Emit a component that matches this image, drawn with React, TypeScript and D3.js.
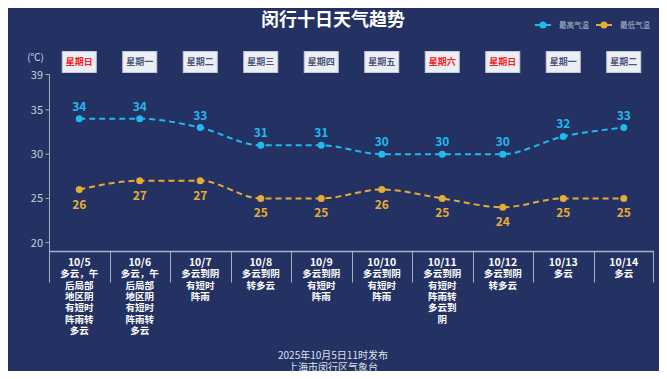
import React from "react";
import * as d3 from "d3";

const dates = ["10/5", "10/6", "10/7", "10/8", "10/9", "10/10", "10/11", "10/12", "10/13", "10/14"];
const weekdays = ["星期日", "星期一", "星期二", "星期三", "星期四", "星期五", "星期六", "星期日", "星期一", "星期二"];
const weathers = [
  "多云，午\n后局部\n地区阴\n有短时\n阵雨转\n多云",
  "多云，午\n后局部\n地区阴\n有短时\n阵雨转\n多云",
  "多云到阴\n有短时\n阵雨",
  "多云到阴\n转多云",
  "多云到阴\n有短时\n阵雨",
  "多云到阴\n有短时\n阵雨",
  "多云到阴\n有短时\n阵雨转\n多云到\n阴",
  "多云到阴\n转多云",
  "多云",
  "多云",
];
const highTemps = [34, 34, 33, 31, 31, 30, 30, 30, 32, 33];
const lowTemps = [26, 27, 27, 25, 25, 26, 25, 24, 25, 25];
const yTicks = [20, 25, 30, 35, 39];
const yDomain = [19, 39];

const W = 667;
const H = 379;
const BG = "#243163";
const BLUE = "#1fbaee";
const ORANGE = "#e5ad37";
const AXIS = "#a9b0c8";
const FONT = "'Noto Sans CJK SC', 'Microsoft YaHei', sans-serif";

export default function App() {
  const x = d3.scaleBand<string>().domain(dates).range([49, 654]).padding(0);
  const y = d3.scaleLinear().domain(yDomain).range([251.5, 74.5]);
  const cx = (d: string) => (x(d) ?? 0) + x.bandwidth() / 2;
  const line = d3
    .line<number>()
    .x((_, i) => cx(dates[i]))
    .y((v) => y(v))
    .curve(d3.curveMonotoneX);
  const axisY = y(yDomain[0]);

  return (
    <div style={{ margin: -8 }}>
      <svg width={W} height={H} style={{ display: "block", background: BG, fontFamily: FONT }}>
        <rect x={0} y={0} width={W} height={H} fill={BG} />
        <text x={333} y={26} textAnchor="middle" fill="#ffffff" fontSize={18} fontWeight="bold">
          闵行十日天气趋势
        </text>
        {/* legend */}
        <g>
          <line x1={535} x2={551} y1={25} y2={25} stroke={BLUE} strokeWidth={2} />
          <circle cx={543} cy={25} r={3.5} fill={BLUE} />
          <text x={559} y={28} fill="#b7bdd2" fontSize={7.5}>最高气温</text>
          <line x1={596} x2={612} y1={25} y2={25} stroke={ORANGE} strokeWidth={2} />
          <circle cx={604} cy={25} r={3.5} fill={ORANGE} />
          <text x={620} y={28} fill="#b7bdd2" fontSize={7.5}>最低气温</text>
        </g>
        {/* unit */}
        <text x={44} y={61} textAnchor="end" fill="#d0d5e4" fontSize={10}>(℃)</text>
        {/* weekday boxes */}
        {dates.map((d, i) => {
          const c = cx(d);
          const red = weekdays[i] === "星期日" || weekdays[i] === "星期六";
          return (
            <g key={"wd" + i}>
              <rect x={c - 17} y={51.5} width={34} height={21} fill="#eceef6" stroke="#c4c8d6" strokeWidth={1} />
              <text x={c} y={65} textAnchor="middle" fontSize={9} fontWeight="bold" fill={red ? "#f51c1c" : "#4a5577"}>
                {weekdays[i]}
              </text>
            </g>
          );
        })}
        {/* y axis */}
        <line x1={49.5} x2={49.5} y1={y(39)} y2={axisY} stroke={AXIS} strokeWidth={1} />
        {yTicks.map((t) => (
          <g key={"yt" + t}>
            <line x1={45.5} x2={49.5} y1={y(t)} y2={y(t)} stroke={AXIS} strokeWidth={1} />
            <text x={43} y={y(t) + 4} textAnchor="end" fill="#c9cedd" fontSize={11}>
              {t}
            </text>
          </g>
        ))}
        {/* x axis */}
        <line x1={49} x2={654} y1={axisY} y2={axisY} stroke={AXIS} strokeWidth={1.5} />
        {dates.map((d, i) => (
          <line key={"xt" + i} x1={Math.round(x(d) ?? 0) + 0.5} x2={Math.round(x(d) ?? 0) + 0.5} y1={axisY} y2={axisY + 31} stroke={AXIS} strokeWidth={1} />
        ))}
        <line x1={653.5} x2={653.5} y1={axisY} y2={axisY + 31} stroke={AXIS} strokeWidth={1} />
        {dates.map((d, i) => {
          const lines = [d, ...weathers[i].split("\n")];
          return (
            <text key={"xl" + i} x={cx(d)} y={266} textAnchor="middle" fill="#ffffff" fontWeight="bold">
              {lines.map((l, j) => (
                <tspan key={j} x={cx(d)} y={266 + j * 11.3} fontSize={j === 0 ? 10.5 : 9.5}>
                  {l}
                </tspan>
              ))}
            </text>
          );
        })}
        {/* lines */}
        <path d={line(highTemps) ?? ""} fill="none" stroke={BLUE} strokeWidth={2} strokeDasharray="6,4" />
        <path d={line(lowTemps) ?? ""} fill="none" stroke={ORANGE} strokeWidth={2} strokeDasharray="6,4" />
        {highTemps.map((v, i) => (
          <g key={"h" + i}>
            <circle cx={cx(dates[i])} cy={y(v)} r={3.5} fill={BLUE} />
            <text x={cx(dates[i])} y={y(v) - 8} textAnchor="middle" fill={BLUE} fontSize={12} fontWeight="bold">
              {v}
            </text>
          </g>
        ))}
        {lowTemps.map((v, i) => (
          <g key={"l" + i}>
            <circle cx={cx(dates[i])} cy={y(v)} r={3.5} fill={ORANGE} />
            <text x={cx(dates[i])} y={y(v) + 19} textAnchor="middle" fill={ORANGE} fontSize={12} fontWeight="bold">
              {v}
            </text>
          </g>
        ))}
        {/* footer */}
        <text x={333} y={359} textAnchor="middle" fill="#dde1ec" fontSize={10}>2025年10月5日11时发布</text>
        <text x={333} y={371} textAnchor="middle" fill="#dde1ec" fontSize={10}>上海市闵行区气象台</text>
      </svg>
    </div>
  );
}
